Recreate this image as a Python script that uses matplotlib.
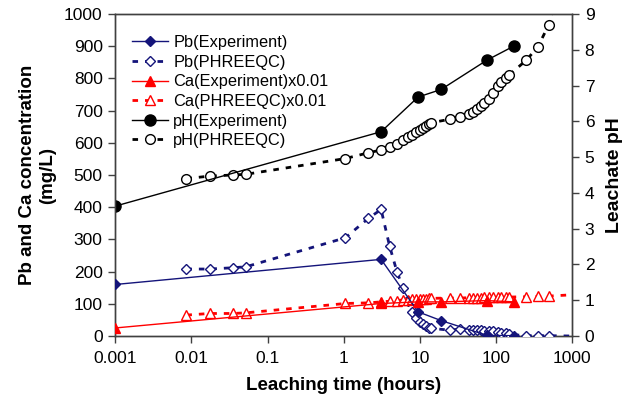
import matplotlib
matplotlib.use("Agg")
import matplotlib.pyplot as plt
from matplotlib.ticker import FixedLocator, NullLocator

plt.rcParams['font.family'] = ['Liberation Sans', 'DejaVu Sans']

# Experimental data
t_exp = [0.001, 3.1, 9.5, 19, 76, 174]
pb_exp = [160, 238, 75, 48, 2, 1]
ca_exp = [25, 101, 106, 106, 110, 106]
ph_exp = [3.63, 5.71, 6.68, 6.89, 7.71, 8.11]

# PHREEQC simulation
t_sim = [0.0086, 0.0174, 0.035, 0.052, 1.05, 2.1, 3.1, 4.0, 5.0, 6.0, 7.0, 8.0,
         9.0, 10, 11, 12, 13, 14, 25, 34, 44, 50, 56, 63, 70, 80, 92, 105, 118,
         135, 150, 250, 355, 490, 1000]
pb_sim = [208, 208, 212, 215, 305, 365, 393, 280, 200, 150, 110, 75,
          55, 44, 36, 30, 26, 24, 18, 22, 20, 18, 19, 18, 17, 16, 15, 12, 10,
          8, 5, 1, 1, 1, 0]
ca_sim = [65, 70, 70, 72, 101, 103, 106, 108, 110, 112, 113, 114,
          115, 116, 116, 116, 117, 117, 118, 118, 119, 119, 119, 119, 120, 120, 120, 121, 121,
          121, 121, 122, 123, 124, 128]
t_ph_sim = [0.0086, 0.0174, 0.035, 0.052, 1.05, 2.1, 3.1, 4.0, 5.0, 6.0, 7.0, 8.0,
            9.0, 10, 11, 12, 13, 14, 25, 34, 44, 50, 56, 63, 70, 80, 92, 105, 118,
            135, 150, 250, 355, 490, 600]
ph_sim = [4.40, 4.47, 4.50, 4.52, 4.96, 5.12, 5.20, 5.29, 5.38, 5.47, 5.55, 5.62,
          5.69, 5.75, 5.81, 5.87, 5.92, 5.96, 6.06, 6.13, 6.20, 6.27, 6.34, 6.42, 6.50, 6.62, 6.80, 6.98, 7.10,
          7.20, 7.30, 7.71, 8.08, 8.69, 9.40]

x_ticks = [0.001, 0.01, 0.1, 1, 10, 100, 1000]
x_ticklabels = ["0.001", "0.01", "0.1", "1", "10", "100", "1000"]

navy = '#14147a'
red = '#ff0000'

fig = plt.figure(figsize=(6.4, 4.07), dpi=100)
ax = fig.add_axes([0.18, 0.1744, 0.714, 0.7912])
ax2 = ax.twinx()

dash = (0, (2, 2.5))
l1, = ax.plot(t_exp, pb_exp, color=navy, lw=1.0, marker='D', ms=5.5, mfc=navy, mec=navy,
              label='Pb(Experiment)', zorder=4)
l2, = ax.plot(t_sim, pb_sim, color=navy, lw=2.0, ls=dash, marker='D', ms=5.5,
              mfc='white', mec=navy, mew=1.0, markevery=slice(0, -1),
              label='Pb(PHREEQC)', zorder=3)
l3, = ax.plot(t_exp, ca_exp, color=red, lw=1.0, marker='^', ms=7, mfc=red, mec=red,
              label='Ca(Experiment)x0.01', zorder=4)
l4, = ax.plot(t_sim, ca_sim, color=red, lw=2.0, ls=dash, marker='^', ms=7,
              mfc='white', mec=red, mew=1.0, markevery=slice(0, -1),
              label='Ca(PHREEQC)x0.01', zorder=3)
l5, = ax2.plot(t_exp, ph_exp, color='black', lw=1.0, marker='o', ms=8, mfc='black', mec='black',
               label='pH(Experiment)', zorder=4)
l6, = ax2.plot(t_ph_sim, ph_sim, color='black', lw=2.0, ls=dash, marker='o', ms=7,
               mfc='white', mec='black', mew=1.0, markevery=slice(0, -1),
               label='pH(PHREEQC)', zorder=3)

ax.set_xscale('log')
ax.set_xlim(0.001, 1000)
ax.set_ylim(0, 1000)
ax2.set_ylim(0, 9)
ax.xaxis.set_major_locator(FixedLocator(x_ticks))
ax.set_xticklabels(x_ticklabels)
ax.xaxis.set_minor_locator(NullLocator())
ax.set_yticks(range(0, 1001, 100))
ax2.set_yticks(range(0, 10))

for a in (ax, ax2):
    for s in a.spines.values():
        s.set_color('#404040')
        s.set_linewidth(1.0)
    a.tick_params(direction='out', length=5, width=1.0, color='#404040', labelsize=12.5, pad=4)
ax.tick_params(axis='x', pad=6)

ax.set_xlabel('Leaching time (hours)', fontsize=13.5, fontweight='bold', labelpad=8)
ax.set_ylabel('Pb and Ca concentration\n(mg/L)', fontsize=13.5, fontweight='bold', labelpad=6)
ax2.set_ylabel('Leachate pH', fontsize=14, fontweight='bold', labelpad=8)

ax.set_zorder(ax2.get_zorder() + 1)
ax.patch.set_visible(False)

leg = ax.legend(handles=[l1, l2, l3, l4, l5, l6], loc='upper left', bbox_to_anchor=(0.0, 0.985),
                frameon=False, fontsize=11.8, handlelength=2.2, handletextpad=0.35,
                labelspacing=0.28, borderaxespad=0.6)

fig.savefig('out.png', dpi=100)
